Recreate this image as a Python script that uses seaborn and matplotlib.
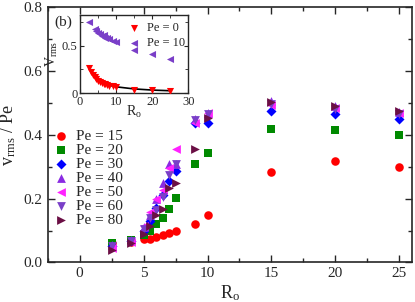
import numpy as np
import pandas as pd
import matplotlib
matplotlib.use("Agg")
import matplotlib.pyplot as plt
import seaborn as sns
from matplotlib.ticker import MultipleLocator, FormatStrFormatter

sns.set_style("ticks")
plt.rcParams["font.family"] = ["Liberation Serif", "DejaVu Serif"]
plt.rcParams["mathtext.fontset"] = "custom"
plt.rcParams["mathtext.rm"] = "Liberation Serif"
plt.rcParams["mathtext.it"] = "Liberation Serif:italic"

# main panel data
ro = [2.5, 4, 5, 5.5, 6, 6.5, 7, 7.5, 9, 10, 15, 20, 25]
pe15 = [0.062, 0.065, 0.072, 0.075, 0.079, 0.086, 0.092, 0.100, 0.122, 0.148, 0.282, 0.318, 0.300]
pe20 = [0.060, 0.070, 0.086, 0.098, 0.119, 0.140, 0.168, 0.202, 0.308, 0.342, 0.417, 0.415, 0.398]
pe30 = [0.051, 0.066, 0.100, 0.130, 0.170, 0.211, 0.254, 0.286, 0.438, 0.436, 0.475, 0.464, 0.450]
pe40 = [0.055, 0.070, 0.110, 0.148, 0.200, 0.248, 0.308, 0.310, 0.450, 0.470, 0.506, 0.490, 0.472]
pe50 = [0.045, 0.063, 0.115, 0.159, 0.198, 0.227, 0.295, 0.355, 0.436, 0.470, 0.493, 0.485, 0.467]
pe60 = [0.050, 0.068, 0.105, 0.140, 0.165, 0.205, 0.275, 0.310, 0.448, 0.465, 0.498, 0.480, 0.465]
pe80 = [0.039, 0.060, 0.090, 0.114, 0.148, 0.166, 0.232, 0.248, 0.356, 0.454, 0.504, 0.490, 0.475]

series = [
    ("Pe = 15", pe15, "o", "#ff0000", 38),
    ("Pe = 20", pe20, "s", "#008a00", 30),
    ("Pe = 30", pe30, "D", "#0000ff", 26),
    ("Pe = 40", pe40, "^", "#8a2be2", 40),
    ("Pe = 50", pe50, "<", "#ff22ff", 40),
    ("Pe = 60", pe60, "v", "#7a3fc8", 40),
    ("Pe = 80", pe80, ">", "#6b0f45", 40),
]

# inset data
ro_in0 = [2.5, 3, 3.5, 4, 4.5, 5, 5.5, 6, 6.5, 7, 7.5, 8, 9, 10, 15, 20, 25]
v_pe0 = [0.27, 0.22, 0.19, 0.17, 0.15, 0.13, 0.12, 0.11, 0.10, 0.095, 0.09, 0.08, 0.075, 0.07, 0.04, 0.035, 0.025]
ro_in10 = [2.5, 4, 4.5, 5, 5.5, 6, 6.5, 7, 7.5, 8, 9, 10, 15, 20, 25]
v_pe10 = [0.745, 0.67, 0.65, 0.63, 0.62, 0.60, 0.61, 0.585, 0.58, 0.57, 0.55, 0.54, 0.455, 0.41, 0.365]
fit_x = [2.5, 3, 4, 5, 6, 8, 10, 15, 20, 25]
fit_y = [0.27, 0.225, 0.17, 0.136, 0.113, 0.085, 0.068, 0.046, 0.034, 0.027]

fig = plt.figure(figsize=(4.15, 3.02), dpi=100)
ax = fig.add_axes([0.115, 0.131, 0.878, 0.845])

for label, vals, mk, col, sz in series:
    df = pd.DataFrame({"Ro": ro, "v": vals})
    sns.scatterplot(data=df, x="Ro", y="v", ax=ax, marker=mk, color=col,
                    s=sz, linewidth=0, label=label, zorder=3)

ax.set_xlim(-2.5, 26)
ax.set_ylim(0, 0.8)
ax.xaxis.set_major_locator(MultipleLocator(5))
ax.xaxis.set_minor_locator(MultipleLocator(2.5))
ax.yaxis.set_major_locator(MultipleLocator(0.2))
ax.yaxis.set_minor_locator(MultipleLocator(0.1))
ax.yaxis.set_major_formatter(FormatStrFormatter("%.1f"))
ax.tick_params(which="both", direction="in", top=True, right=True, labelsize=11, width=1)
ax.tick_params(which="major", length=5)
ax.tick_params(which="minor", length=3)
for sp in ax.spines.values():
    sp.set_linewidth(1.2)
ax.set_xlabel("R$_\\mathrm{o}$", fontsize=13, labelpad=2)
ax.set_ylabel("v$_\\mathrm{rms}$ / Pe", fontsize=13, labelpad=4)

ax.legend(loc="center left", bbox_to_anchor=(0.015, 0.33), frameon=False,
          fontsize=11, handlelength=1.0, handletextpad=0.5, borderpad=0,
          borderaxespad=0, labelspacing=0.02)

# inset
ins = fig.add_axes([0.193, 0.691, 0.261, 0.259])
sns.lineplot(x=fit_x, y=fit_y, ax=ins, color="black", linewidth=1.2, zorder=2)
sns.scatterplot(x=ro_in0, y=v_pe0, ax=ins, marker="v", color="#ff0000", s=26,
                linewidth=0, label="Pe = 0", zorder=3)
sns.scatterplot(x=ro_in10, y=v_pe10, ax=ins, marker="<", color="#7a3fc8", s=26,
                linewidth=0, label="Pe = 10", zorder=3)
ins.set_xlim(0, 30)
ins.set_ylim(0, 0.82)
ins.xaxis.set_major_locator(MultipleLocator(10))
ins.xaxis.set_minor_locator(MultipleLocator(5))
ins.yaxis.set_major_locator(MultipleLocator(0.5))
ins.yaxis.set_minor_locator(MultipleLocator(0.25))
ins.yaxis.set_major_formatter(plt.FuncFormatter(lambda v, p: "0" if v == 0 else f"{v:g}"))
ins.tick_params(which="both", direction="in", top=True, right=True, labelsize=9, pad=2)
ins.tick_params(which="major", length=3)
ins.tick_params(which="minor", length=2)
for sp in ins.spines.values():
    sp.set_linewidth(1.0)
ins.set_xlabel("R$_\\mathrm{o}$", fontsize=10, labelpad=-3)
ins.set_ylabel("V$_\\mathrm{rms}$", fontsize=10, labelpad=1)
ins.legend(loc="upper left", bbox_to_anchor=(0.36, 1.02), frameon=False, fontsize=9,
           handlelength=1.0, handletextpad=0.5, borderpad=0.2, labelspacing=0.2)

fig.text(0.152, 0.925, "(b)", fontsize=11, ha="center", va="center")

fig.savefig("out.png", dpi=100)
